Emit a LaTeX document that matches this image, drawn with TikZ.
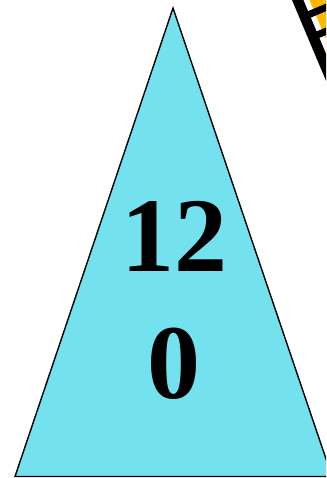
\documentclass[tikz,border=0pt]{standalone}
\usepackage{fontspec}
\setmainfont{Liberation Serif}
\definecolor{tri}{HTML}{74E1EF}
\definecolor{tape}{HTML}{FFB800}
\tikzset{
  bigdigit/.style={font=\bfseries\fontsize{106}{127}\selectfont, inner sep=0pt, anchor=base},
  cone/.style={fill=tri, draw=black, line width=1.4pt, line join=miter}
}
\begin{document}
\begin{tikzpicture}[x=1pt,y=-1pt]
\useasboundingbox (0,0) rectangle (326,478);
\begin{scope}
\clip (0,0) rectangle (326,478);
\draw[cone] (173,8) -- (15,476.5) -- (332,476.5) -- cycle;
\begin{scope}[x=1pt,y=1pt,cm={0.388,-0.922,0.922,0.388,(292pt,0pt)}]
 \fill[tape] (-30,10) rectangle (150,60);
 \fill[white] (-30,10) rectangle (150,16);
 \fill[black] (-30,0) rectangle (150,10.5);
 \foreach \s in {-2,20,42} \fill[black] (\s-3.5,10) rectangle (\s+3.5,60);
\end{scope}
\end{scope}
\node[bigdigit] (n12) at (174,271) {12};
\node[bigdigit] (n0) at (174,398) {0};
\end{tikzpicture}
\end{document}
